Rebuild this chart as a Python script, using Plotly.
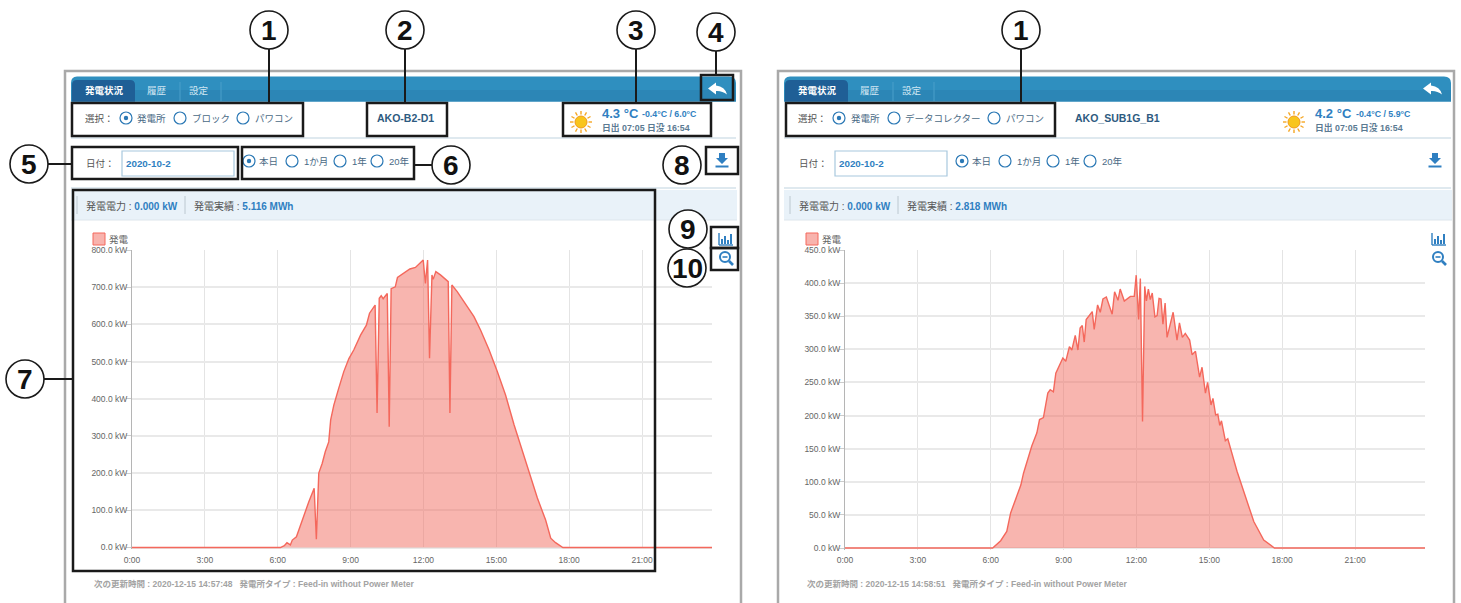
import math

import plotly.graph_objects as go

# --- Data ---
hours = ["0:00", "3:00", "6:00", "9:00", "12:00", "15:00", "18:00", "21:00"]
hour_vals = [0, 3, 6, 9, 12, 15, 18, 21]

y_left_vals = [0, 100, 200, 300, 400, 500, 600, 700, 800]
y_right_vals = [0, 50, 100, 150, 200, 250, 300, 350, 400, 450]

t_left = [0, 6.11, 6.27, 6.38, 6.52, 6.60, 6.77, 6.93, 7.14, 7.28, 7.50, 7.59, 7.69, 7.83,
          7.96, 8.10, 8.18, 8.31, 8.51, 8.72, 8.93, 9.13, 9.41, 9.65, 9.78, 10.01, 10.09,
          10.18, 10.26, 10.34, 10.51, 10.59, 10.67, 10.84, 10.93, 11.12, 11.33, 11.44,
          11.67, 11.99, 12.08, 12.17, 12.25, 12.35, 12.40, 12.51, 12.70, 13.02, 13.09,
          13.17, 13.39, 13.66, 14.08, 14.35, 14.70, 15.04, 15.38, 15.73, 16.07, 16.41,
          16.69, 17.03, 17.24, 17.44, 17.74, 23.88]
kw_left = [0, 0, 5, 13, 7, 20, 29, 60, 96, 123, 159, 22, 200, 226,
           258, 284, 343, 383, 428, 473, 508, 531, 571, 598, 630, 652, 362,
           670, 677, 669, 683, 325, 696, 701, 726, 735, 744, 749,
           753, 773, 710, 773, 509, 733, 721, 742, 733, 715, 362,
           706, 688, 661, 621, 585, 532, 473, 410, 330, 262, 191,
           133, 74, 25, 13, 0, 0]

t_right = [0, 6.08, 6.41, 6.66, 6.82, 7.04, 7.24, 7.35, 7.69, 7.90, 8.01, 8.17, 8.35, 8.45,
           8.58, 8.68, 8.97, 9.09, 9.24, 9.34, 9.48, 9.59, 9.68, 9.77, 9.85, 9.93, 10.18,
           10.26, 10.40, 10.51, 10.62, 10.76, 11.00, 11.10, 11.24, 11.33, 11.50, 11.75,
           11.91, 11.99, 12.09, 12.16, 12.25, 12.34, 12.41, 12.49, 12.57, 12.65, 12.76,
           12.85, 12.93, 13.01, 13.09, 13.18, 13.26, 13.51, 13.67, 13.77, 13.89, 14.01,
           14.19, 14.29, 14.43, 14.60, 14.70, 14.84, 14.93, 15.07, 15.15, 15.26, 15.35,
           15.43, 15.50, 15.66, 15.76, 16.14, 16.35, 16.56, 16.83, 17.24, 17.68, 23.88]
kw_right = [0, 0, 11, 25, 53, 75, 95, 113, 154, 174, 194, 197, 234, 239,
            236, 264, 287, 282, 304, 299, 321, 299, 332, 336, 311, 345, 357,
            330, 367, 356, 376, 379, 353, 387, 374, 391, 373, 380,
            380, 412, 345, 407, 191, 395, 373, 391, 375, 385, 349,
            351, 377, 376, 338, 370, 318, 356, 314, 340, 318, 324,
            314, 292, 297, 258, 273, 234, 250, 216, 226, 201, 202,
            185, 192, 162, 165, 116, 93, 68, 40, 12, 0, 0]

# --- Config ---
W, H = 1461, 603
JP = "Liberation Sans, Noto Sans CJK JP, sans-serif"
NARROW = "Liberation Sans Narrow, Liberation Sans, sans-serif"
BLUE = "#2f7fc1"
GREY_TXT = "#555555"

shapes = []
notes = []


def box(x0, y0, x1, y1, fill="rgba(0,0,0,0)", line=None, width=1):
    shapes.append(dict(type="rect", xref="x3", yref="y3", x0=x0, y0=y0, x1=x1, y1=y1,
                       fillcolor=fill, line=dict(color=line or fill, width=width if line else 0),
                       layer="above"))


def seg(x0, y0, x1, y1, color, width=1):
    shapes.append(dict(type="line", xref="x3", yref="y3", x0=x0, y0=y0, x1=x1, y1=y1,
                       line=dict(color=color, width=width), layer="above"))


def circle(cx, cy, r, fill="rgba(0,0,0,0)", line=None, width=1):
    shapes.append(dict(type="circle", xref="x3", yref="y3", x0=cx - r, y0=cy - r, x1=cx + r, y1=cy + r,
                       fillcolor=fill, line=dict(color=line or fill, width=width if line else 0),
                       layer="above"))


def path(d, fill="rgba(0,0,0,0)", line=None, width=1):
    shapes.append(dict(type="path", xref="x3", yref="y3", path=d, fillcolor=fill,
                       line=dict(color=line or fill, width=width if line else 0), layer="above"))


def txt(x, y, s, size=9, color=GREY_TXT, anchor="left", family=JP):
    notes.append(dict(xref="x3", yref="y3", x=x, y=y, text=s, showarrow=False, xanchor=anchor,
                      yanchor="middle", font=dict(size=size, color=color, family=family),
                      borderpad=0, borderwidth=0))


def radio(x, y, on=False):
    circle(x, y, 6, fill="white", line="#2a78b5", width=1.2)
    if on:
        circle(x, y, 2.2, fill="#2a78b5")


def sun(cx, cy):
    for i in range(12):
        a = i * math.pi / 6
        seg(cx + 7.5 * math.cos(a), cy + 7.5 * math.sin(a), cx + 11 * math.cos(a), cy + 11 * math.sin(a),
            "#f5a623", 1.4)
    circle(cx, cy, 6, fill="#f8c51c", line="#f09a1a", width=1)


def back_arrow(cx, cy):
    path(f"M {cx - 9} {cy} L {cx - 1} {cy - 6} L {cx - 1} {cy - 3} Q {cx + 8} {cy - 2} {cx + 10} {cy + 6} "
         f"Q {cx + 5} {cy + 2} {cx - 1} {cy + 2.5} L {cx - 1} {cy + 6} Z", fill="white")


def download_icon(cx, cy):
    path(f"M {cx - 3} {cy - 7} L {cx + 3} {cy - 7} L {cx + 3} {cy - 2} L {cx + 6} {cy - 2} L {cx} {cy + 4} "
         f"L {cx - 6} {cy - 2} L {cx - 3} {cy - 2} Z", fill=BLUE)
    box(cx - 6.5, cy + 5.5, cx + 6.5, cy + 7.5, fill=BLUE)


def chart_icon(cx, cy):
    seg(cx - 7, cy - 6, cx - 7, cy + 6, BLUE, 1.4)
    seg(cx - 7, cy + 6, cx + 7, cy + 6, BLUE, 1.4)
    for off, top in [(-4, 0), (-1, -3), (2, 1), (5, -5)]:
        seg(cx + off, cy + 5, cx + off, cy + top, BLUE, 2)


def zoom_icon(cx, cy):
    circle(cx - 1, cy - 1, 5, line=BLUE, width=2)
    seg(cx + 3, cy + 3, cx + 7, cy + 7, BLUE, 2.6)
    seg(cx - 3.5, cy - 1, cx + 1.5, cy - 1, BLUE, 1.6)


def callout(cx, cy, label):
    circle(cx, cy, 19, fill="white", line="#1a1a1a", width=1.6)
    txt(cx, cy, f"<b>{label}</b>", size=28, color="#111111", anchor="center", family=NARROW)


def panel(dx, right, radios, labels, site, temp, output, footer):
    bar_r = 736 + dx + (2 if right else 0)
    # outer frame and tab bar
    box(65 + dx, 71, 741 + dx, 606, line="#a9a9a9", width=2.5)
    path(f"M {71 + dx} 101.5 L {71 + dx} 83 Q {71 + dx} 76.5 {77 + dx} 76.5 L {bar_r - 7} 76.5 "
         f"Q {bar_r} 76.5 {bar_r} 83 L {bar_r} 101.5 Z", fill="#2f8fbf")
    box(71 + dx, 90, bar_r, 101.5, fill="#2c86b6")
    path(f"M {72 + dx} 101.5 L {72 + dx} 85 Q {72 + dx} 80 {77 + dx} 80 L {130 + dx} 80 "
         f"Q {135 + dx} 80 {135 + dx} 85 L {135 + dx} 101.5 Z", fill="#1f5f96")
    seg(180 + dx, 82, 180 + dx, 101, "#4a9fca", 1)
    seg(221 + dx, 82, 221 + dx, 101, "#4a9fca", 1)
    txt(104 + dx, 90, "<b>発電状況</b>", size=9.5, color="white", anchor="center")
    txt(157 + dx, 90, "履歴", size=9.5, color="#cfe6f3", anchor="center")
    txt(199 + dx, 90, "設定", size=9.5, color="#cfe6f3", anchor="center")
    back_arrow(717 + dx + (2 if right else 0), 88.5)

    # selector row
    seg(71 + dx, 138, bar_r, 138, "#d5e2ea", 1.5)
    txt(85 + dx, 118, "選択：", size=9.5)
    for (rx, on), (lx, lab) in zip(radios, labels):
        radio(rx, 118, on)
        txt(lx, 118, lab, size=9.5, color="#4a6a85")
    txt(site[0], 118, f"<b>{site[1]}</b>", size=10.5, color="#2d5a80")
    sun(581 + dx, 122)
    txt(602 + dx, 113, f"<b>{temp[0]}</b>", size=13, color=BLUE)
    txt(642 + dx + (1 if right else 0), 114, f"<b>{temp[1]}</b>", size=8.8, color=BLUE)
    txt(602 + dx, 127, f"<b>日出 07:05 日没 16:54</b>", size=8.8, color="#5b7a92")

    # date row
    txt(86 + dx, 163, "日付：", size=9.5)
    box(122 + dx, 151, 234 + dx, 176, fill="white", line="#a8c8de", width=1.2)
    txt(126 + dx, 163.5, "<b>2020-10-2</b>", size=9.8, color=BLUE)
    for rx, lx, lab, on in [(249, 259, "本日", True), (292, 304, "1か月", False),
                            (340, 352, "1年", False), (377, 389, "20年", False)]:
        radio(rx + dx, 161, on)
        txt(lx + dx, 161, lab, size=9.5, color="#4a6a85")
    download_icon(722 + dx, 160)
    seg(71 + dx, 188, bar_r, 188, "#d5e2ea", 1.5)

    # status band
    box(71 + dx, 190, bar_r + 1, 220, fill="#e9f2f9")
    seg(71 + dx, 220, bar_r + 1, 220, "#dde6ec", 1)
    seg(77 + dx, 196, 77 + dx, 214, "#bcc8d0", 1)
    seg(185 + dx, 196, 185 + dx, 214, "#bcc8d0", 1)
    txt(86 + dx, 206, f"発電電力 : <b><span style='color:{BLUE}'>0.000 kW</span></b>", size=10)
    txt(194 + dx, 206, f"発電実績 : <b><span style='color:{BLUE}'>{output}</span></b>", size=10)

    # legend and chart tools
    box(93 + dx, 233, 105 + dx, 245, fill="#f8b3ad", line="#f4685c", width=1)
    txt(109 + dx, 239, "発電", size=9.5, color="#666666")
    chart_icon(726 + dx, 239)
    zoom_icon(726 + dx, 258)
    txt(94 + dx, 584, footer, size=8.5, color="#a3a3a3")


# --- Panels ---
panel(0, False,
      [(126, True), (180, False), (243, False)],
      [(137, "発電所"), (192, "ブロック"), (255, "パワコン")],
      (377, "AKO-B2-D1"), ("4.3 °C", "-0.4°C / 6.0°C"), "5.116 MWh",
      "<b>次の更新時間 : 2020-12-15 14:57:48   発電所タイプ : Feed-in without Power Meter</b>")
panel(713, True,
      [(839, True), (894, False), (994, False)],
      [(851, "発電所"), (905, "データコレクター"), (1006, "パワコン")],
      (1075, "AKO_SUB1G_B1"), ("4.2 °C", "-0.4°C / 5.9°C"), "2.818 MWh",
      "<b>次の更新時間 : 2020-12-15 14:58:51   発電所タイプ : Feed-in without Power Meter</b>")

# --- Black annotation frames and callouts ---
for x0, y0, x1, y1 in [(72, 103, 303, 136), (367, 103, 447, 136), (563, 103, 711, 136),
                       (701, 75, 733, 100), (72, 147, 238, 179), (242, 147, 414, 179),
                       (73, 190, 655, 571), (706, 147, 738, 174), (711, 227, 738, 248),
                       (711, 248, 738, 270), (786, 103, 1055, 136)]:
    box(x0, y0, x1, y1, line="#1a1a1a", width=2.5)

for x0, y0, x1, y1 in [(269, 49, 269, 103), (405, 49, 405, 103), (636, 49, 636, 103), (716, 50, 716, 75),
                       (48, 164, 72, 164), (414, 165, 432, 165), (44, 379, 73, 379),
                       (1021, 49, 1021, 103)]:
    seg(x0, y0, x1, y1, "#1a1a1a", 2)

for cx, cy, label in [(269, 30, "1"), (405, 30, "2"), (636, 30, "3"), (716, 32, "4"), (29, 164, "5"),
                      (451, 165, "6"), (25, 379, "7"), (682, 165, "8"), (688, 229, "9"), (687, 268, "10"),
                      (1021, 30, "1")]:
    callout(cx, cy, label)

# --- Figure ---
fig = go.Figure()
fig.add_trace(go.Scatter(x=t_left, y=kw_left, mode="lines", fill="tozeroy", name="発電",
                         line=dict(color="#f4685c", width=1.4), fillcolor="rgba(241,108,96,0.5)",
                         xaxis="x", yaxis="y"))
fig.add_trace(go.Scatter(x=t_right, y=kw_right, mode="lines", fill="tozeroy", name="発電",
                         line=dict(color="#f4685c", width=1.4), fillcolor="rgba(241,108,96,0.5)",
                         xaxis="x2", yaxis="y2"))
# empty trace so the pixel-space overlay axes exist
fig.add_trace(go.Scatter(x=[None], y=[None], xaxis="x3", yaxis="y3", showlegend=False))

x_style = dict(tickmode="array", tickvals=hour_vals, ticktext=hours, range=[0, 23.88], showgrid=True,
               gridcolor="#e4e4e4", gridwidth=1, zeroline=False, showline=False, ticks="", ticklen=0,
               ticklabelstandoff=4, tickfont=dict(size=8.5, color="#666666", family=NARROW))
y_style = dict(tickmode="array", showgrid=True, gridcolor="#e9e9e9", gridwidth=1.5, zeroline=False,
               showline=True, linecolor="#b5b5b5", linewidth=1, ticks="outside", ticklen=5, tickcolor="#cccccc",
               ticklabelstandoff=-3, tickfont=dict(size=8.5, color="#666666", family=NARROW))

fig.update_layout(
    width=W,
    height=H,
    autosize=False,
    showlegend=False,
    margin=dict(l=0, r=0, t=0, b=0, pad=0, autoexpand=False),
    paper_bgcolor="white",
    plot_bgcolor="rgba(0,0,0,0)",
    shapes=shapes,
    annotations=notes,
    xaxis=dict(domain=[132 / W, 712 / W], anchor="y", **x_style),
    # a sliver below zero so the flat night line is not clipped by the plot edge
    yaxis=dict(domain=[1 - 549 / H, 1 - 250 / H], anchor="x", range=[-4, 800], tickvals=y_left_vals,
               ticktext=[f"{v:.1f} kW" for v in y_left_vals], **y_style),
    xaxis2=dict(domain=[845 / W, 1425 / W], anchor="y2", **x_style),
    yaxis2=dict(domain=[1 - 549.5 / H, 1 - 250 / H], anchor="x2", range=[-2.25, 450], tickvals=y_right_vals,
                ticktext=[f"{v:.1f} kW" for v in y_right_vals], **y_style),
    xaxis3=dict(domain=[0, 1], anchor="y3", range=[0, W], visible=False, fixedrange=True),
    yaxis3=dict(domain=[0, 1], anchor="x3", range=[H, 0], visible=False, fixedrange=True),
)

fig.write_html("out.html", config=dict(displayModeBar=False),
               post_script="document.body.style.margin='0';document.body.style.overflow='hidden';")
